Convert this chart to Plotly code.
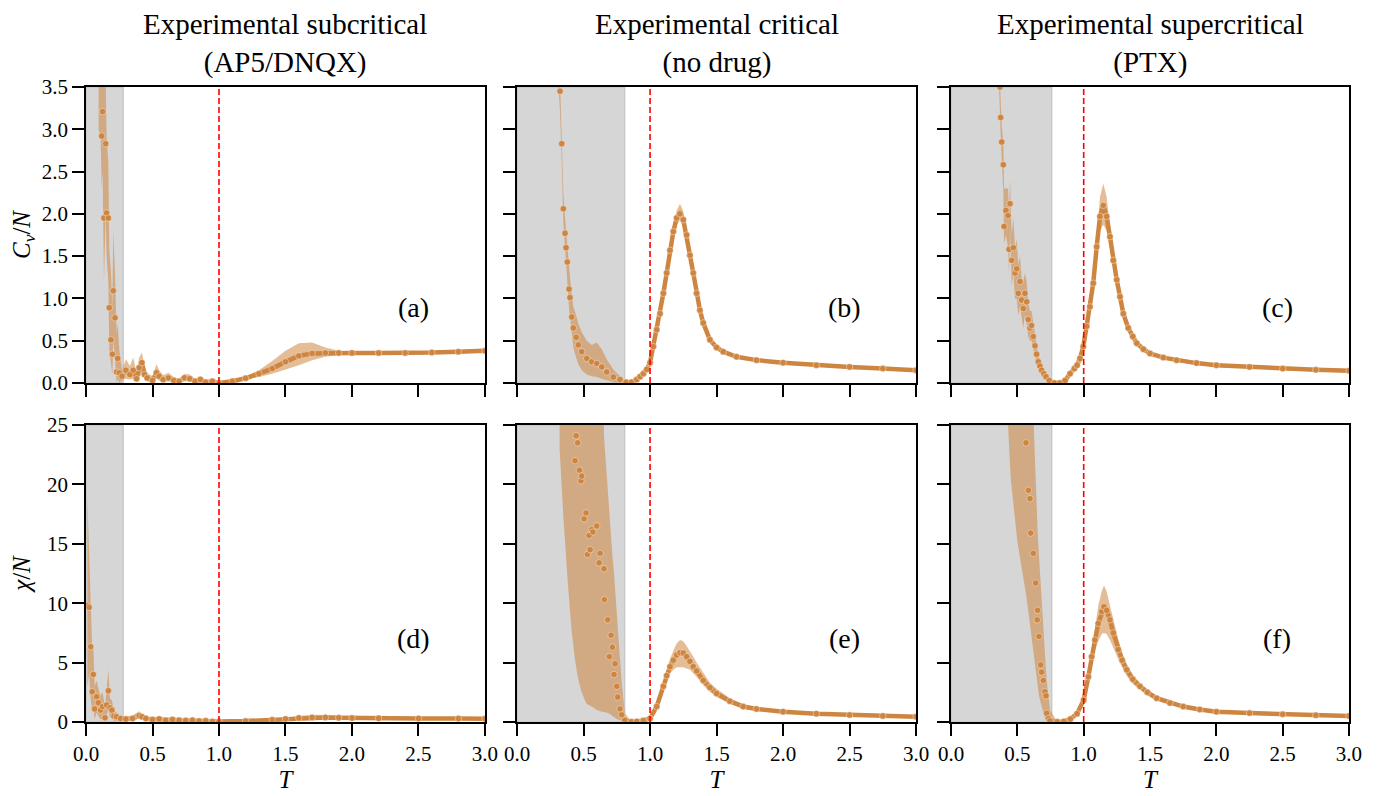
import plotly.graph_objects as go
from plotly.subplots import make_subplots

# ---------------- data ----------------
col_titles = ["Experimental subcritical<br>(AP5/DNQX)",
              "Experimental critical<br>(no drug)",
              "Experimental supercritical<br>(PTX)"]
panel_labels = ["(a)", "(b)", "(c)", "(d)", "(e)", "(f)"]
x_ticks = [0.0, 0.5, 1.0, 1.5, 2.0, 2.5, 3.0]
cv_ticks = [0.0, 0.5, 1.0, 1.5, 2.0, 2.5, 3.0, 3.5]
chi_ticks = [0, 5, 10, 15, 20, 25]
gray_end = [0.28, 0.81, 0.76]
T_c = 1.0

# (a) Cv/N subcritical
T_a = [0.095, 0.11, 0.118, 0.125, 0.135, 0.148, 0.155, 0.168, 0.175, 0.188, 0.198, 0.205, 0.218, 0.23, 0.238, 0.25,
       0.27, 0.30, 0.33, 0.355, 0.38, 0.40, 0.42, 0.44, 0.46, 0.50, 0.53, 0.55, 0.58, 0.62, 0.66, 0.70, 0.74, 0.78,
       0.82, 0.86, 0.90, 0.95, 1.0, 1.1, 1.2, 1.3, 1.4, 1.5, 1.6, 1.7, 1.8, 1.9, 2.0, 2.2, 2.4, 2.6, 2.8, 3.0]
cv_a = [3.9, 3.6, 2.92, 3.21, 1.95, 2.83, 2.01, 1.95, 0.89, 0.51, 0.34, 1.09, 0.77, 0.13, 0.29, 0.12,
        0.08, 0.15, 0.10, 0.15, 0.05, 0.18, 0.24, 0.10, 0.06, 0.03, 0.12, 0.08, 0.04, 0.06, 0.03, 0.02, 0.06, 0.05,
        0.02, 0.04, 0.01, 0.02, 0.0, 0.02, 0.055, 0.11, 0.17, 0.25, 0.32, 0.35, 0.355, 0.355, 0.355, 0.355, 0.355,
        0.36, 0.37, 0.38]
cv_a_lo = [3.0, 2.9, 2.3, 2.5, 1.2, 2.0, 1.5, 1.2, 0.4, 0.2, 0.1, 0.5, 0.3, 0.0, 0.05, 0.0,
           0.03, 0.05, 0.04, 0.05, 0.01, 0.07, 0.1, 0.04, 0.02, 0.0, 0.05, 0.03, 0.01, 0.02, 0.01, 0.0, 0.02, 0.02,
           0.0, 0.01, 0.0, 0.0, 0.0, 0.01, 0.04, 0.07, 0.11, 0.16, 0.21, 0.27, 0.31, 0.33, 0.335, 0.34, 0.34,
           0.345, 0.355, 0.365]
cv_a_hi = [5.0, 4.6, 3.9, 4.0, 3.6, 3.6, 2.9, 2.6, 1.6, 1.3, 0.9, 1.8, 1.3, 0.6, 0.7, 0.4,
           0.15, 0.28, 0.2, 0.3, 0.12, 0.3, 0.36, 0.2, 0.12, 0.08, 0.22, 0.15, 0.09, 0.12, 0.07, 0.05, 0.11, 0.1,
           0.05, 0.08, 0.03, 0.04, 0.01, 0.03, 0.08, 0.15, 0.26, 0.38, 0.47, 0.48, 0.42, 0.38, 0.37, 0.37, 0.37,
           0.375, 0.385, 0.395]

# (b) Cv/N critical
T_b = [0.30, 0.323, 0.336, 0.348, 0.361, 0.368, 0.378, 0.391, 0.398, 0.411, 0.423, 0.444, 0.461, 0.486, 0.524,
       0.561, 0.599, 0.637, 0.674, 0.724, 0.774, 0.82, 0.86, 0.90, 0.925, 0.95, 0.975, 1.0, 1.025, 1.05, 1.075,
       1.10, 1.125, 1.15, 1.175, 1.20, 1.225, 1.25, 1.275, 1.30, 1.325, 1.35, 1.375, 1.40, 1.45, 1.50, 1.55, 1.65,
       1.80, 2.0, 2.25, 2.5, 2.75, 3.0]
cv_b = [4.3, 3.45, 2.83, 2.06, 1.77, 1.60, 1.43, 1.11, 1.01, 0.78, 0.65, 0.54, 0.45, 0.37, 0.29,
        0.25, 0.23, 0.19, 0.13, 0.07, 0.04, 0.01, 0.01, 0.04, 0.075, 0.11, 0.16, 0.24, 0.43, 0.63, 0.82,
        1.06, 1.30, 1.57, 1.79, 1.95, 2.00, 1.93, 1.75, 1.51, 1.30, 1.06, 0.86, 0.71, 0.51, 0.42, 0.37, 0.31,
        0.27, 0.24, 0.21, 0.19, 0.17, 0.15]
cv_b_lo = [3.8, 3.2, 2.6, 1.9, 1.6, 1.4, 1.2, 0.88, 0.78, 0.55, 0.42, 0.3, 0.22, 0.15, 0.1,
           0.08, 0.07, 0.05, 0.03, 0.01, 0.0, 0.0, 0.0, 0.03, 0.06, 0.09, 0.14, 0.22, 0.4, 0.6, 0.78,
           1.01, 1.24, 1.5, 1.71, 1.87, 1.92, 1.86, 1.69, 1.46, 1.26, 1.03, 0.83, 0.69, 0.49, 0.40, 0.355, 0.295,
           0.255, 0.225, 0.195, 0.175, 0.155, 0.135]
cv_b_hi = [4.8, 3.7, 3.05, 2.25, 1.95, 1.8, 1.65, 1.35, 1.25, 1.05, 0.9, 0.8, 0.7, 0.6, 0.5,
           0.45, 0.48, 0.4, 0.28, 0.16, 0.08, 0.02, 0.02, 0.05, 0.09, 0.13, 0.18, 0.26, 0.46, 0.67, 0.87,
           1.12, 1.37, 1.65, 1.88, 2.04, 2.12, 2.03, 1.82, 1.57, 1.35, 1.1, 0.9, 0.74, 0.53, 0.44, 0.385, 0.325,
           0.285, 0.255, 0.225, 0.205, 0.185, 0.165]

# (c) Cv/N supercritical
T_cc = [0.36, 0.369, 0.374, 0.382, 0.394, 0.40, 0.414, 0.43, 0.437, 0.445, 0.457, 0.47, 0.482, 0.495, 0.507,
        0.52, 0.532, 0.545, 0.557, 0.57, 0.582, 0.595, 0.607, 0.62, 0.633, 0.645, 0.658, 0.67, 0.683, 0.70,
        0.716, 0.74, 0.78, 0.82, 0.86, 0.897, 0.93, 0.95, 0.972, 0.997, 1.022, 1.047, 1.072, 1.098, 1.123,
        1.148, 1.173, 1.198, 1.223, 1.249, 1.274, 1.299, 1.336, 1.37, 1.40, 1.45, 1.50, 1.6, 1.7, 1.85, 2.0,
        2.25, 2.5, 2.75, 3.0]
cv_c = [3.8, 3.5, 3.14, 2.85, 2.58, 1.85, 2.04, 1.98, 1.58, 2.12, 1.45, 1.6, 1.30, 1.35, 1.06,
        1.2, 0.98, 0.88, 1.06, 0.96, 0.75, 0.65, 0.68, 0.55, 0.44, 0.34, 0.25, 0.20, 0.15, 0.11,
        0.075, 0.03, 0.0, 0.0, 0.03, 0.11, 0.17, 0.21, 0.29, 0.43, 0.67, 0.90, 1.18, 1.61, 1.97,
        2.10, 1.97, 1.73, 1.45, 1.22, 1.02, 0.82, 0.65, 0.55, 0.47, 0.40, 0.35, 0.30, 0.27, 0.235, 0.21,
        0.19, 0.17, 0.155, 0.145]
cv_c_lo = [3.6, 3.3, 2.95, 2.65, 2.3, 1.65, 1.75, 1.6, 1.3, 1.8, 1.15, 1.3, 1.0, 1.0, 0.8,
           0.9, 0.75, 0.65, 0.8, 0.7, 0.55, 0.5, 0.5, 0.4, 0.32, 0.24, 0.17, 0.13, 0.1, 0.07,
           0.05, 0.02, 0.0, 0.0, 0.02, 0.09, 0.15, 0.19, 0.27, 0.4, 0.63, 0.85, 1.12, 1.5, 1.8,
           1.87, 1.8, 1.6, 1.36, 1.15, 0.97, 0.78, 0.62, 0.52, 0.45, 0.38, 0.33, 0.28, 0.25, 0.215, 0.19,
           0.17, 0.15, 0.135, 0.125]
cv_c_hi = [4.0, 3.7, 3.35, 3.05, 2.85, 2.3, 2.3, 2.3, 2.0, 2.4, 1.75, 1.95, 1.6, 1.7, 1.4,
           1.5, 1.25, 1.2, 1.3, 1.2, 0.95, 0.85, 0.85, 0.7, 0.58, 0.45, 0.34, 0.27, 0.2, 0.15,
           0.1, 0.05, 0.01, 0.01, 0.04, 0.13, 0.19, 0.23, 0.31, 0.46, 0.71, 0.95, 1.25, 1.72, 2.2,
           2.36, 2.2, 1.86, 1.54, 1.29, 1.07, 0.86, 0.68, 0.58, 0.49, 0.42, 0.37, 0.32, 0.29, 0.255, 0.23,
           0.21, 0.19, 0.175, 0.165]

# (d) chi/N subcritical
T_d = [0.01, 0.023, 0.035, 0.047, 0.055, 0.065, 0.08, 0.093, 0.11, 0.125, 0.143, 0.155, 0.168, 0.18, 0.195,
       0.21, 0.23, 0.26, 0.30, 0.35, 0.40, 0.42, 0.45, 0.50, 0.55, 0.60, 0.65, 0.70, 0.75, 0.80, 0.85, 0.90,
       0.95, 1.0, 1.2, 1.4, 1.5, 1.6, 1.7, 1.8, 1.9, 2.0, 2.2, 2.5, 2.8, 3.0]
chi_d = [9.8, 9.65, 6.34, 2.55, 4.0, 1.1, 2.13, 1.63, 1.0, 1.3, 0.36, 1.43, 2.63, 1.2, 1.0,
         0.5, 0.45, 0.3, 0.25, 0.3, 0.53, 0.45, 0.3, 0.2, 0.25, 0.15, 0.2, 0.15, 0.12, 0.15, 0.08, 0.1,
         0.05, 0.05, 0.08, 0.18, 0.26, 0.34, 0.38, 0.38, 0.36, 0.34, 0.32, 0.30, 0.29, 0.28]
chi_d_lo = [3.0, 4.0, 2.0, 0.8, 1.5, 0.2, 0.8, 0.5, 0.2, 0.3, 0.0, 0.6, 1.0, 0.4, 0.3,
            0.1, 0.1, 0.1, 0.1, 0.12, 0.3, 0.25, 0.15, 0.1, 0.1, 0.07, 0.1, 0.07, 0.05, 0.07, 0.03, 0.04,
            0.02, 0.02, 0.05, 0.12, 0.2, 0.25, 0.28, 0.3, 0.3, 0.3, 0.29, 0.27, 0.26, 0.25]
chi_d_hi = [19.0, 14.0, 10.0, 6.0, 6.5, 3.0, 3.5, 2.8, 2.2, 2.5, 1.2, 2.6, 4.4, 2.0, 1.8,
            1.0, 0.8, 0.5, 0.45, 0.55, 0.9, 0.7, 0.5, 0.35, 0.45, 0.3, 0.35, 0.25, 0.2, 0.25, 0.15, 0.17,
            0.1, 0.08, 0.11, 0.25, 0.35, 0.5, 0.6, 0.58, 0.5, 0.42, 0.37, 0.34, 0.32, 0.31]

# (e) chi/N critical
T_e = [0.32, 0.348, 0.38, 0.41, 0.436, 0.444, 0.456, 0.469, 0.48, 0.486, 0.504, 0.519, 0.529, 0.541, 0.549,
       0.561, 0.57, 0.599, 0.617, 0.624, 0.654, 0.657, 0.682, 0.694, 0.707, 0.717, 0.729, 0.737, 0.75, 0.757,
       0.774, 0.787, 0.81, 0.86, 0.90, 0.95, 1.0, 1.05, 1.1, 1.125, 1.15, 1.175, 1.2, 1.225, 1.25, 1.275, 1.3,
       1.325, 1.35, 1.4, 1.45, 1.5, 1.6, 1.7, 1.8, 2.0, 2.25, 2.5, 2.75, 3.0]
chi_e = [32, 30, 28, 26, 22.0, 24.1, 23.5, 21.2, 20.3, 20.7, 17.1, 17.6, 14.1, 15.7, 14.5,
         16.2, 16.0, 16.5, 13.4, 14.2, 12.9, 10.3, 8.6, 5.5, 7.3, 6.3, 4.0, 4.9, 3.0, 2.1,
         1.1, 0.6, 0.15, 0.02, 0.05, 0.12, 0.3, 1.3, 3.0, 3.9, 4.65, 5.2, 5.64, 5.82, 5.8, 5.5, 5.1,
         4.66, 4.3, 3.5, 2.9, 2.4, 1.75, 1.3, 1.1, 0.87, 0.7, 0.59, 0.51, 0.45]
chi_e_lo = [23, 17.3, 12, 7.7, 5.2, 4.5, 3.8, 3.2, 2.7, 2.5, 2.0, 1.6, 1.5, 1.4, 1.35,
            1.3, 1.25, 1.0, 0.95, 0.9, 0.85, 0.85, 0.75, 0.7, 0.6, 0.5, 0.4, 0.35, 0.25, 0.2,
            0.15, 0.1, 0.0, 0.0, 0.03, 0.09, 0.25, 1.1, 2.7, 3.4, 4.1, 4.4, 4.6, 4.6, 4.6, 4.5, 4.4,
            4.1, 3.8, 3.1, 2.55, 2.1, 1.55, 1.15, 0.98, 0.8, 0.65, 0.55, 0.47, 0.42]
chi_e_hi = [45, 45, 45, 45, 45, 45, 45, 45, 45, 45, 45, 45, 45, 45, 45,
            45, 45, 45, 45, 45, 24, 23.5, 20, 18, 15.5, 14, 12.5, 11.4, 9.2, 8,
            5.3, 3.3, 0.75, 0.05, 0.08, 0.16, 0.35, 1.5, 3.4, 4.4, 5.3, 6.0, 6.6, 6.9, 6.8, 6.4, 6.0,
            5.5, 5.0, 4.1, 3.3, 2.8, 2.0, 1.5, 1.25, 0.97, 0.77, 0.65, 0.56, 0.49]

# (f) chi/N supercritical
T_f = [0.43, 0.45, 0.5, 0.55, 0.565, 0.583, 0.595, 0.60, 0.62, 0.638, 0.65, 0.653, 0.663, 0.676, 0.683, 0.696,
       0.708, 0.716, 0.721, 0.735, 0.746, 0.8, 0.85, 0.9, 0.95, 1.0, 1.035, 1.06, 1.085, 1.11, 1.136, 1.153,
       1.173, 1.198, 1.223, 1.26, 1.29, 1.324, 1.37, 1.424, 1.48, 1.55, 1.65, 1.75, 1.875, 2.0, 2.25, 2.5,
       2.75, 3.0]
chi_f = [32, 30, 28, 26, 23.5, 19.5, 18.8, 15.9, 14.2, 11.7, 8.6, 9.4, 7.2, 4.8, 4.2, 3.5,
         2.55, 2.2, 0.73, 0.3, 0.1, 0.02, 0.05, 0.25, 0.7, 1.85, 3.8, 5.5, 6.9, 8.3, 9.3, 9.7,
         9.4, 8.6, 7.5, 6.1, 5.2, 4.4, 3.6, 3.0, 2.5, 2.0, 1.6, 1.3, 1.05, 0.87, 0.75, 0.65, 0.57, 0.5]
chi_f_lo = [25, 20.5, 15.2, 12, 10.8, 9.3, 8.2, 7.8, 6.0, 4.0, 3.0, 2.8, 2.2, 1.6, 1.3, 0.8,
            0.3, 0.2, 0.15, 0.05, 0.0, 0.0, 0.03, 0.2, 0.6, 1.6, 3.3, 4.8, 6.0, 6.8, 7.4, 7.5,
            7.4, 6.9, 6.2, 5.3, 4.6, 3.9, 3.2, 2.7, 2.25, 1.8, 1.45, 1.18, 0.96, 0.8, 0.68, 0.59, 0.52, 0.45]
chi_f_hi = [45, 45, 45, 45, 45, 45, 45, 45, 26, 19.8, 16.5, 16, 14, 11.5, 10, 7.2,
            5.5, 4.3, 3.5, 2.0, 1.0, 0.05, 0.08, 0.3, 0.8, 2.1, 4.3, 6.2, 7.8, 9.8, 11.0, 11.5,
            11.0, 9.8, 8.6, 7.0, 5.8, 4.9, 4.0, 3.3, 2.75, 2.2, 1.75, 1.42, 1.14, 0.95, 0.82, 0.71, 0.62, 0.55]

# ---------------- figure ----------------
ORANGE = "#CD853F"
BAND = "rgba(205,133,63,0.55)"
FONT = "Liberation Serif"

panels = [
    (1, 1, T_a, cv_a, cv_a_lo, cv_a_hi, 0.26),
    (1, 2, T_b, cv_b, cv_b_lo, cv_b_hi, 0.80),
    (1, 3, T_cc, cv_c, cv_c_lo, cv_c_hi, 0.72),
    (2, 1, T_d, chi_d, chi_d_lo, chi_d_hi, 0.26),
    (2, 2, T_e, chi_e, chi_e_lo, chi_e_hi, 0.80),
    (2, 3, T_f, chi_f, chi_f_lo, chi_f_hi, 0.74),
]
label_y = {1: 0.255, 2: 0.28}

fig = make_subplots(rows=2, cols=3)

x_dom = [[0.0, 0.3159], [0.3413, 0.6572], [0.6849, 1.0]]
y_dom = {1: [0.5339, 1.0], 2: [0.0, 0.4677]}

for i, (r, c, T, y, lo, hi, line_from) in enumerate(panels):
    fig.add_trace(go.Scatter(x=T, y=lo, mode="lines", line=dict(width=0, color=BAND),
                             hoverinfo="skip", showlegend=False), row=r, col=c)
    fig.add_trace(go.Scatter(x=T, y=hi, mode="lines", line=dict(width=0, color=BAND),
                             fill="tonexty", fillcolor=BAND, hoverinfo="skip", showlegend=False), row=r, col=c)
    Tl = [t for t in T if t >= line_from]
    yl = [v for t, v in zip(T, y) if t >= line_from]
    fig.add_trace(go.Scatter(x=Tl, y=yl, mode="lines", line=dict(width=4.5, color=ORANGE),
                             showlegend=False), row=r, col=c)
    fig.add_trace(go.Scatter(x=T, y=y, mode="markers",
                             marker=dict(size=6.5, color=ORANGE, line=dict(width=0.4, color="white")),
                             showlegend=False), row=r, col=c)

    idx = i + 1
    xa = "x" if idx == 1 else f"x{idx}"
    ya = "y" if idx == 1 else f"y{idx}"
    # gray region
    fig.add_shape(type="rect", xref=xa, yref=f"{ya} domain", x0=0, x1=gray_end[c - 1], y0=0, y1=1,
                  fillcolor="#D6D6D6", line=dict(color="#BEBEBE", width=1), layer="below")
    # critical temperature
    fig.add_shape(type="line", xref=xa, yref=f"{ya} domain", x0=T_c, x1=T_c, y0=0, y1=1,
                  line=dict(color="red", width=1.6, dash="6px,3px"), layer="above")
    fig.add_annotation(xref=f"{xa} domain", yref=f"{ya} domain", x=0.82, y=label_y[r],
                       xanchor="center", yanchor="middle",
                       text=panel_labels[i], showarrow=False, font=dict(family=FONT, size=28, color="black"))

axis_common = dict(showline=True, linecolor="black", linewidth=1.6, mirror=True, ticks="outside",
                   ticklen=12, tickwidth=1.8, tickcolor="black", showgrid=False, zeroline=False,
                   automargin=False, tickfont=dict(family=FONT, size=21, color="black"))

for r in (1, 2):
    for c in (1, 2, 3):
        idx = (r - 1) * 3 + c
        xk = "xaxis" if idx == 1 else f"xaxis{idx}"
        yk = "yaxis" if idx == 1 else f"yaxis{idx}"
        xd = dict(axis_common, domain=x_dom[c - 1], range=[0, 3], tickvals=x_ticks,
                  ticktext=[f"{v:.1f}" for v in x_ticks], showticklabels=(r == 2))
        if r == 2:
            xd["title"] = dict(text="<i>T</i>", font=dict(family=FONT, size=25, color="black"), standoff=2)
        if r == 1:
            yd = dict(axis_common, domain=y_dom[r], range=[0, 3.5], tickvals=cv_ticks,
                      ticktext=[f"{v:.1f}" for v in cv_ticks], showticklabels=(c == 1))
            if c == 1:
                yd["title"] = dict(text="<i>C<sub>v</sub></i>/<i>N</i>",
                                   font=dict(family=FONT, size=25, color="black"), standoff=10)
        else:
            yd = dict(axis_common, domain=y_dom[r], range=[0, 25], tickvals=chi_ticks,
                      ticktext=[str(v) for v in chi_ticks], showticklabels=(c == 1))
            if c == 1:
                yd["title"] = dict(text="<i>χ</i>/<i>N</i>",
                                   font=dict(family=FONT, size=25, color="black"), standoff=10)
        fig.update_layout({xk: xd, yk: yd})

for c in range(3):
    fig.add_annotation(xref="paper", yref="paper", x=sum(x_dom[c]) / 2, y=1.0, yanchor="bottom",
                       xanchor="center", yshift=6, text=col_titles[c], showarrow=False,
                       font=dict(family=FONT, size=29, color="black"))

# page body adds an 8 px margin, so the figure is 8 px smaller on each axis and margins shifted
fig.update_layout(width=1385, height=788, plot_bgcolor="white", paper_bgcolor="white",
                  margin=dict(l=78, r=44, t=79, b=74), showlegend=False,
                  font=dict(family=FONT, color="black"))

fig.write_html("out.html")
